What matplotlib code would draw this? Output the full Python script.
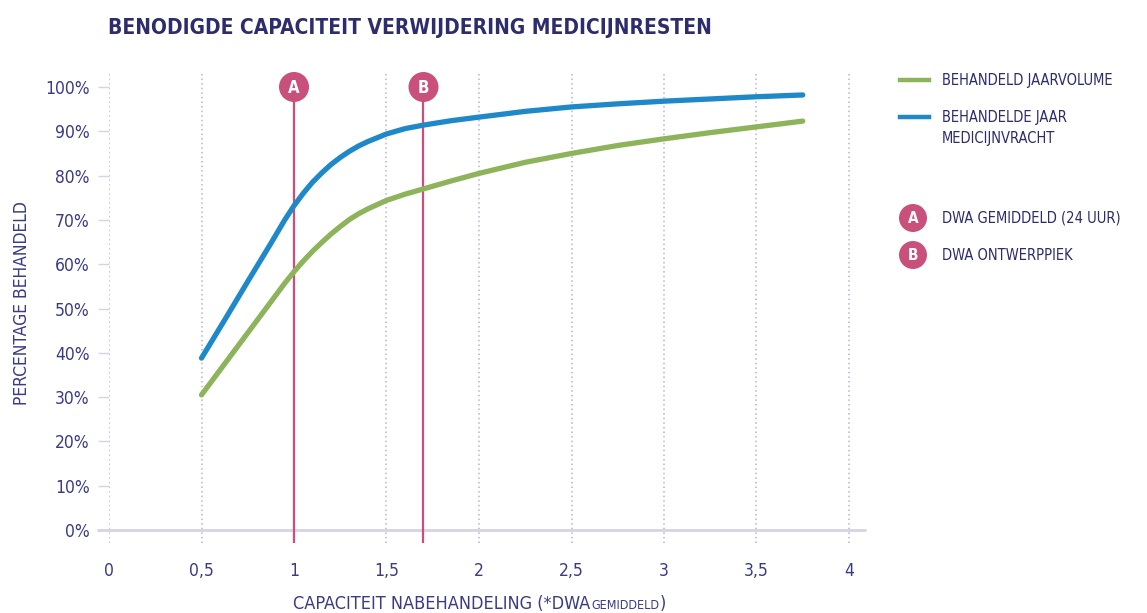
import matplotlib
matplotlib.use("Agg")
import matplotlib.pyplot as plt
from matplotlib.patches import Ellipse

# Capacity of post-treatment (multiples of average dry weather flow)
capacity = [0.5, 0.625, 0.75, 0.875, 0.95, 1.0, 1.05, 1.1, 1.15, 1.2, 1.25,
            1.3, 1.35, 1.4, 1.5, 1.6, 1.7, 1.85, 2.0, 2.25, 2.5, 2.75, 3.0,
            3.25, 3.5, 3.75]
# Share of yearly volume treated (%)
jaarvolume = [30.5, 37.5, 44.5, 51.5, 55.7, 58.3, 60.7, 62.9, 64.9, 66.8, 68.5,
              70.1, 71.4, 72.5, 74.4, 75.8, 77.0, 78.8, 80.5, 83.0, 85.0, 86.8,
              88.3, 89.7, 91.0, 92.3]
# Share of yearly pharmaceutical load treated (%)
medicijnvracht = [38.8, 47.4, 56.1, 64.7, 70.0, 73.2, 76.0, 78.5, 80.6, 82.5, 84.1,
                  85.5, 86.7, 87.7, 89.4, 90.6, 91.4, 92.4, 93.2, 94.5, 95.5, 96.2,
                  96.8, 97.3, 97.8, 98.2]

x_ticks = [0, 0.5, 1, 1.5, 2, 2.5, 3, 3.5, 4]
x_tick_labels = ["0", "0,5", "1", "1,5", "2", "2,5", "3", "3,5", "4"]
y_ticks = [0, 10, 20, 30, 40, 50, 60, 70, 80, 90, 100]
y_tick_labels = [f"{v}%" for v in y_ticks]

markers = [("A", 1.0), ("B", 1.7)]
legend_lines = ["BEHANDELD JAARVOLUME", "BEHANDELDE JAAR\nMEDICIJNVRACHT"]
legend_markers = ["DWA GEMIDDELD (24 UUR)", "DWA ONTWERPPIEK"]

NAVY = "#2d2c6c"
NAVY_LIGHT = "#3a3a86"
GREEN = "#8db45a"
BLUE = "#1f88c9"
PINK = "#c9507b"
LINE_PINK = "#d24c7a"
GRID = "#b4b4d4"
BASE = "#d4d4e6"

FONT = dict(family="DejaVu Sans", stretch="condensed")

W, H = 1147, 613
fig = plt.figure(figsize=(W / 100, H / 100), dpi=100)
fig.patch.set_facecolor("white")


def fx(px):
    return px / W


def fy(py):
    return 1 - py / H


def badge(cx, cy, r, label, size):
    """Pink disc with a white letter, centred at figure fraction (cx, cy)."""
    fig.add_artist(Ellipse((cx, cy), 2 * r / W, 2 * r / H, transform=fig.transFigure,
                           facecolor=PINK, edgecolor="none", zorder=10))
    fig.text(cx, cy - 0.001, label, ha="center", va="center", color="white",
             fontsize=size, fontweight="bold", zorder=11, **FONT)


ax = fig.add_axes([fx(109), fy(543), fx(866) - fx(109), fy(73) - fy(543)])
x_right = (866 - 109) / 185.0
ax.set_xlim(0.0, x_right)
ax.set_ylim((530 - 543) / 4.43, (530 - 73) / 4.43)

for s in ax.spines.values():
    s.set_visible(False)

# dotted vertical grid
for xv in x_ticks:
    ax.axvline(xv, color=GRID, lw=1.1, ls=(0, (1, 2)), zorder=1)

# baseline at 0%
ax.plot([-0.065, x_right], [0, 0], color=BASE, lw=2, zorder=1,
        clip_on=False, solid_capstyle="butt")

# marker lines A and B
for label, xv in markers:
    ax.plot([xv, xv], [ax.get_ylim()[0], 100], color=LINE_PINK, lw=1.6, zorder=2)

ax.plot(capacity, jaarvolume, color=GREEN, lw=3.8, solid_capstyle="round",
        solid_joinstyle="round", zorder=3)
ax.plot(capacity, medicijnvracht, color=BLUE, lw=3.8, solid_capstyle="round",
        solid_joinstyle="round", zorder=4)

ax.set_xticks(x_ticks)
ax.set_xticklabels(x_tick_labels)
ax.set_yticks(y_ticks)
ax.set_yticklabels(y_tick_labels)
ax.tick_params(axis="x", length=0, pad=14, labelsize=12.5, labelcolor=NAVY_LIGHT)
ax.tick_params(axis="y", length=8, width=1, color=BASE, pad=6,
               labelsize=12.5, labelcolor=NAVY_LIGHT)
for t in ax.get_xticklabels() + ax.get_yticklabels():
    t.set_fontfamily(FONT["family"])
    t.set_fontstretch(FONT["stretch"])

# circled letters on top of the marker lines
for label, xv in markers:
    cx, cy = ax.transData.transform((xv, 100))
    badge(cx / W, cy / H, 15, label, 12)

# title
fig.text(fx(108), fy(28), "BENODIGDE CAPACITEIT VERWIJDERING MEDICIJNRESTEN",
         ha="left", va="center", fontsize=15, fontweight="bold", color=NAVY, **FONT)

# axis labels
fig.text(fx(22), fy(303), "PERCENTAGE BEHANDELD", rotation=90, ha="center",
         va="center", fontsize=12.5, color=NAVY_LIGHT, **FONT)
t1 = fig.text(fx(293), fy(609), "CAPACITEIT NABEHANDELING (*DWA", ha="left",
              va="baseline", fontsize=13, color=NAVY_LIGHT, **FONT)
t2 = fig.text(0, 0, "GEMIDDELD", fontsize=9, color=NAVY_LIGHT, **FONT)
t3 = fig.text(0, 0, ")", fontsize=13, color=NAVY_LIGHT, **FONT)
fig.canvas.draw()
renderer = fig.canvas.get_renderer()
bb1 = t1.get_window_extent(renderer)
t2.set_position((bb1.x1 / W + 0.001, fy(609)))
t2.set_va("baseline")
bb2 = t2.get_window_extent(renderer)
t3.set_position((bb2.x1 / W, fy(609)))
t3.set_va("baseline")

# legend
leg_x0, leg_x1, leg_tx = 900, 929, 942
fig.add_artist(plt.Line2D([fx(leg_x0), fx(leg_x1)], [fy(80), fy(80)], color=GREEN,
                          lw=3.2, transform=fig.transFigure))
fig.text(fx(leg_tx), fy(80), legend_lines[0], ha="left", va="center",
         fontsize=10.5, color=NAVY, **FONT)
fig.add_artist(plt.Line2D([fx(leg_x0), fx(leg_x1)], [fy(117), fy(117)], color=BLUE,
                          lw=3.2, transform=fig.transFigure))
fig.text(fx(leg_tx), fy(128), legend_lines[1], ha="left", va="center",
         fontsize=10.5, color=NAVY, linespacing=1.45, **FONT)

for (label, _), text, py in zip(markers, legend_markers, [218, 255]):
    badge(fx(913), fy(py), 14, label, 11)
    fig.text(fx(leg_tx), fy(py), text, ha="left", va="center",
             fontsize=10.5, color=NAVY, **FONT)

fig.savefig("out.png", dpi=100)
